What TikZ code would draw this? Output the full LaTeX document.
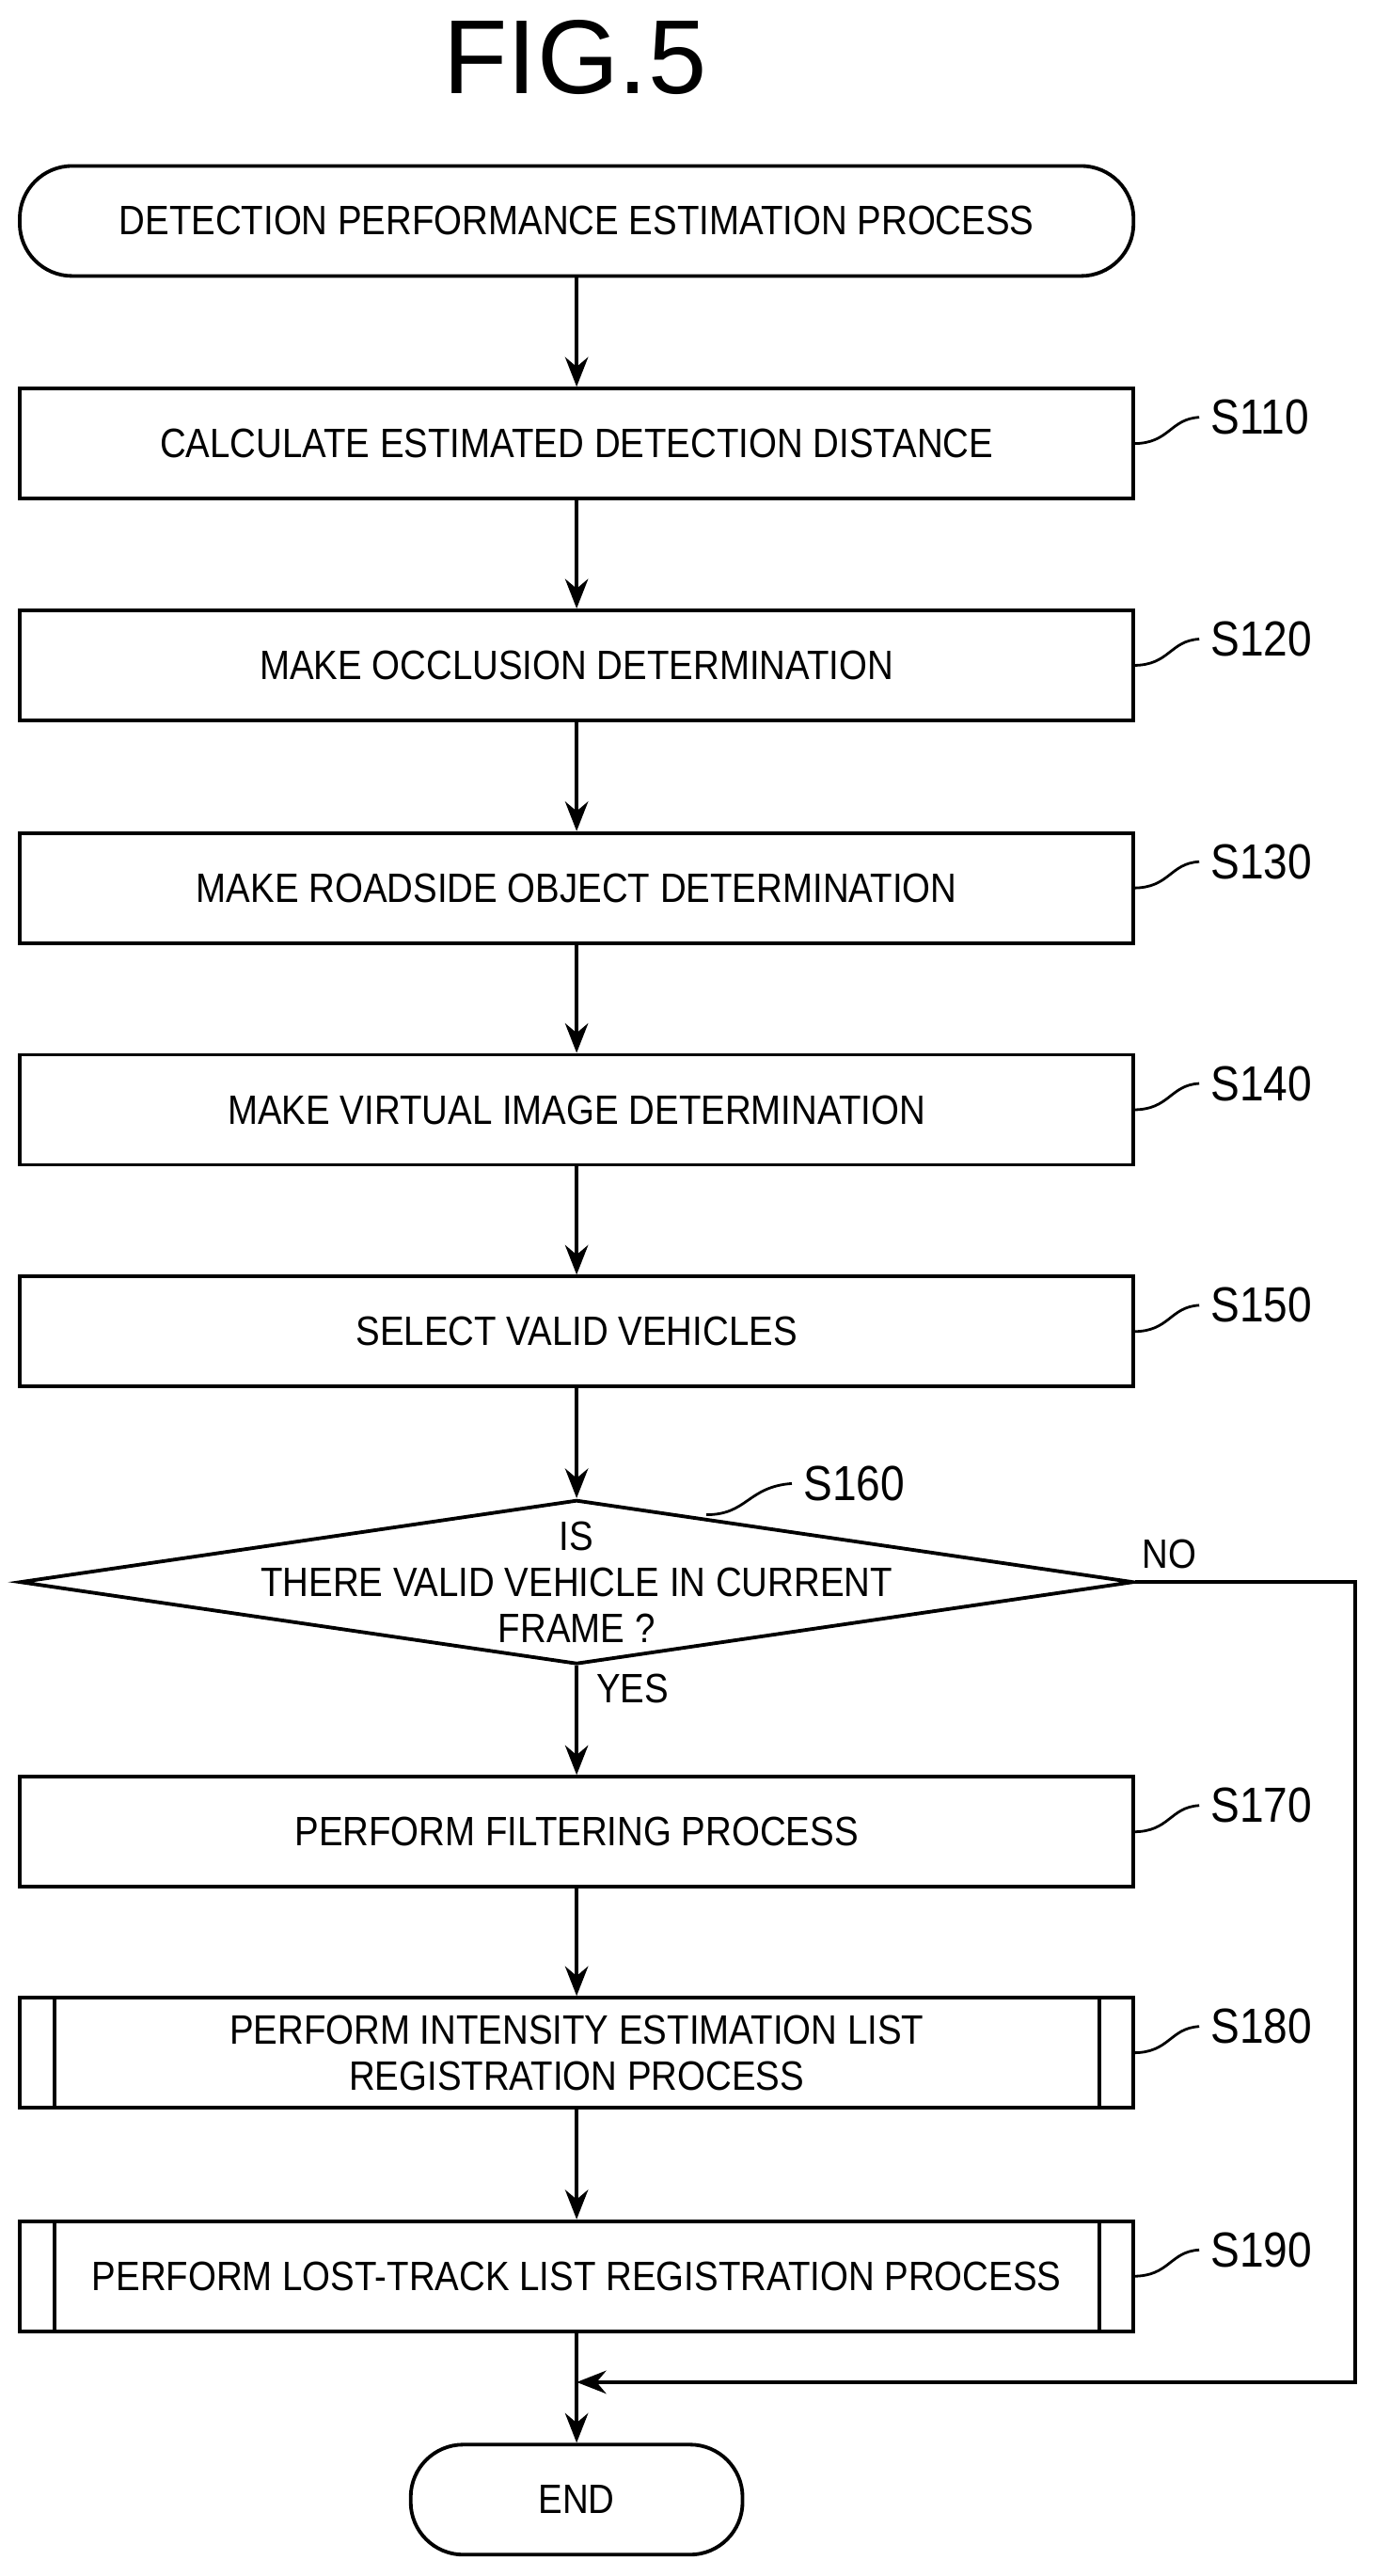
\documentclass[tikz,border=0pt]{standalone}
\usepackage{fontspec}
\setmainfont{Liberation Sans}[FakeStretch=0.88]
\newfontfamily\titlefont{Liberation Sans}
\usetikzlibrary{shapes.geometric,arrows.meta}
\begin{document}
\begin{tikzpicture}[x=0.5pt,y=-0.5pt,
  box/.style={draw,line width=1.1pt,minimum width=339pt,minimum height=33.5pt,align=center,font=\fontsize{12.5}{14}\selectfont},
  term/.style={box,rounded corners=16pt},
  lbl/.style={font=\fontsize{15}{16}\selectfont,anchor=west},
  arr/.style={-{Stealth[length=9pt,width=7pt]},line width=1.1pt},
  lead/.style={line width=0.8pt}]
\useasboundingbox (0,0) rectangle (836,1568);
\node[font=\titlefont\fontsize{32}{36}\selectfont] (title) at (350,35) {FIG.5};
\node[term] (start) at (351,134.5) {DETECTION PERFORMANCE ESTIMATION PROCESS};
\node[box] (s110) at (351,270) {CALCULATE ESTIMATED DETECTION DISTANCE};
\node[box] (s120) at (351,405) {MAKE OCCLUSION DETERMINATION};
\node[box] (s130) at (351,540.5) {MAKE ROADSIDE OBJECT DETERMINATION};
\node[box] (s140) at (351,675.5) {MAKE VIRTUAL IMAGE DETERMINATION};
\node[box] (s150) at (351,810.5) {SELECT VALID VEHICLES};
\node[draw,line width=1.1pt,diamond,aspect=6.78,minimum width=339pt,minimum height=50pt,inner sep=0pt] (s160) at (351,963) {};
\node[align=center,font=\fontsize{12.5}{14}\selectfont] at (351,963) {IS\\THERE VALID VEHICLE IN CURRENT\\FRAME ?};
\node[box] (s170) at (351,1115) {PERFORM FILTERING PROCESS};
\node[box] (s180) at (351,1249.5) {PERFORM INTENSITY ESTIMATION LIST\\REGISTRATION PROCESS};
\draw[line width=1.1pt] (33,1216) -- (33,1283) (669,1216) -- (669,1283);
\node[box] (s190) at (351,1385.5) {PERFORM LOST-TRACK LIST REGISTRATION PROCESS};
\draw[line width=1.1pt] (33,1352) -- (33,1419) (669,1352) -- (669,1419);
\node[term,minimum width=101pt] (end) at (351,1521.5) {END};
\coordinate (j) at (351,1450);
\coordinate (nr) at (825,963);
\coordinate (nb) at (825,1450);
\draw[arr] (start) -- (s110);
\draw[arr] (s110) -- (s120);
\draw[arr] (s120) -- (s130);
\draw[arr] (s130) -- (s140);
\draw[arr] (s140) -- (s150);
\draw[arr] (s150) -- (s160.north);
\draw[arr] (s160.south) -- (s170);
\draw[arr] (s170) -- (s180);
\draw[arr] (s180) -- (s190);
\draw[arr] (s190) -- (end);
\draw[arr] (s160.east) -- (nr) -- (nb) -- (j);
\node[font=\fontsize{12.5}{14}\selectfont] (yes) at (385,1028) {YES};
\node[font=\fontsize{12.5}{14}\selectfont] (no) at (712,946) {NO};
\foreach \n/\y/\t in {a/270/S110,b/405/S120,c/540.5/S130,d/675.5/S140,e/810.5/S150,f/1115/S170,g/1249.5/S180,h/1385.5/S190}{
  \node[lbl] (L\n) at (730,\y-16) {\t};
  \draw[lead] (690,\y) .. controls (712,\y) and (712,\y-15) .. (L\n.west);
}
\node[lbl] (Ls160) at (482,903) {S160};
\draw[lead] (430,922) .. controls (455,922) and (455,905) .. (Ls160.west);
\end{tikzpicture}
\end{document}
